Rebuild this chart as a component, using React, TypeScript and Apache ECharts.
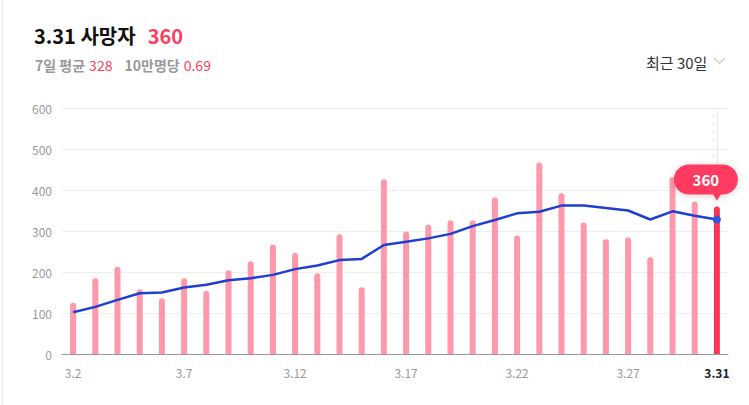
import React, { useEffect, useRef } from "react";
import * as echarts from "echarts";

const dates = [
  "3.2", "3.3", "3.4", "3.5", "3.6", "3.7", "3.8", "3.9", "3.10", "3.11",
  "3.12", "3.13", "3.14", "3.15", "3.16", "3.17", "3.18", "3.19", "3.20", "3.21",
  "3.22", "3.23", "3.24", "3.25", "3.26", "3.27", "3.28", "3.29", "3.30", "3.31",
];
const deaths = [
  125, 185, 213, 158, 136, 185, 154, 204, 226, 267,
  247, 197, 292, 163, 426, 299, 316, 326, 326, 382,
  289, 467, 392, 321, 280, 285, 236, 431, 372, 360,
];
const avg7 = [
  102, 115, 132, 148, 150, 162, 169, 180, 185, 193,
  207, 216, 229, 232, 266, 274, 282, 293, 312, 327,
  343, 347, 362, 362, 356, 350, 328, 348, 337, 328,
];
const yTicks = [0, 100, 200, 300, 400, 500, 600];

const FONT = "'Noto Sans CJK KR', 'Noto Sans', sans-serif";
const PINK = "#ff98aa";
const RED = "#ff3358";
const BLUE = "#1f3fd1";

const bubblePath =
  "path://M15,0 L49,0 C57.3,0 64,6.7 64,15 C64,23.3 57.3,30 49,30 L47,30 L43,36 L39,30 L15,30 C6.7,30 0,23.3 0,15 C0,6.7 6.7,0 15,0 Z";

export default function App() {
  const ref = useRef<HTMLDivElement>(null);
  useEffect(() => {
    if (!ref.current) return;
    const chart = echarts.init(ref.current, undefined, { renderer: "svg" });
    const last = dates.length - 1;
    chart.setOption({
      animation: false,
      textStyle: { fontFamily: FONT },
      title: [
        {
          left: 29,
          top: 20,
          text: "{a|3.31 사망자}{b|" + deaths[last] + "}",
          textStyle: {
            fontFamily: FONT,
            rich: {
              a: { fontSize: 20, fontWeight: "bold", color: "#111", fontFamily: FONT },
              b: { fontSize: 20, fontWeight: "bold", color: "#ff3d5e", padding: [0, 0, 0, 12], fontFamily: FONT },
            },
          },
        },
        {
          left: 30,
          top: 51,
          text: "{g|7일 평균} {r|" + avg7[last] + "}   {g|10만명당} {r|0.69}",
          textStyle: {
            fontFamily: FONT,
            fontWeight: "normal",
            rich: {
              g: { fontSize: 14, fontWeight: "bold", color: "#999", fontFamily: FONT },
              r: { fontSize: 14, fontWeight: "normal", color: "#ff3d5e", fontFamily: FONT },
            },
          },
        },
        {
          left: 641,
          top: 50,
          text: "최근 30일",
          textStyle: { fontSize: 15, fontWeight: "normal", color: "#333", fontFamily: FONT },
        },
      ],
      graphic: [
        {
          type: "polyline",
          shape: { points: [[714, 58], [719.5, 63.5], [725, 58]] },
          style: { stroke: "#c8c8c8", lineWidth: 1.2, fill: "none" },
        },
      ],
      grid: { left: 62, right: 21, top: 108, bottom: 51 },
      xAxis: {
        type: "category",
        data: dates,
        boundaryGap: true,
        axisLine: { lineStyle: { color: "#999", width: 1 } },
        axisTick: { show: false },
        axisLabel: {
          interval: (i: number) => i % 5 === 0 || i === last,
          color: "#999",
          fontSize: 12,
          margin: 12,
          fontFamily: FONT,
          formatter: (v: string, i: number) => (i === last ? "{l|" + v + "}" : v),
          rich: { l: { color: "#222", fontWeight: "bold", fontSize: 12, fontFamily: FONT } },
        },
      },
      yAxis: {
        type: "value",
        min: 0,
        max: 600,
        interval: 100,
        axisLine: { show: false },
        axisTick: { show: false },
        axisLabel: {
          color: "#999",
          fontSize: 12,
          margin: 10,
          fontFamily: FONT,
          formatter: (v: number) => (yTicks.includes(v) ? String(v) : ""),
        },
        splitLine: { lineStyle: { color: "#eeeeee", width: 1 } },
      },
      series: [
        {
          type: "bar",
          barWidth: 6,
          data: deaths.map((v, i) => ({
            value: v,
            itemStyle: { color: i === last ? RED : PINK, borderRadius: [3, 3, 0, 0] },
          })),
          z: 2,
          markLine: {
            silent: true,
            symbol: "none",
            label: { show: false },
            lineStyle: { type: "dotted", color: "#d8d8d8", width: 1 },
            data: [[{ coord: [dates[last], 600] }, { coord: [dates[last], 440] }]],
          },
          markPoint: {
            silent: true,
            data: [{ coord: [dates[last], deaths[last]], value: deaths[last] }],
            symbol: bubblePath,
            symbolSize: [64, 36],
            symbolOffset: [-11, -24],
            itemStyle: { color: "#ff3a62", shadowBlur: 6, shadowColor: "rgba(0,0,0,0.18)", shadowOffsetY: 1 },
            label: {
              show: true,
              color: "#fff",
              fontSize: 15,
              fontWeight: "bold",
              fontFamily: FONT,
              offset: [0, -3],
              formatter: (p: any) => String(p.value),
            },
          },
        },
        {
          type: "line",
          data: avg7,
          z: 3,
          symbol: "circle",
          symbolSize: (_v: number, p: any) => (p.dataIndex === last ? 8 : 0),
          showSymbol: true,
          lineStyle: { color: BLUE, width: 2.5 },
          itemStyle: { color: "#3355dd" },
        },
      ],
    });
    return () => chart.dispose();
  }, []);
  return (
    <div style={{ position: "fixed", left: 0, top: 0, width: 749, height: 405, background: "#fff" }}>
      <div style={{ position: "absolute", left: 2, top: 0, width: 1, height: 405, background: "#e8e8f0" }} />
      <div ref={ref} style={{ position: "absolute", left: 0, top: 0, width: 749, height: 405 }} />
    </div>
  );
}
